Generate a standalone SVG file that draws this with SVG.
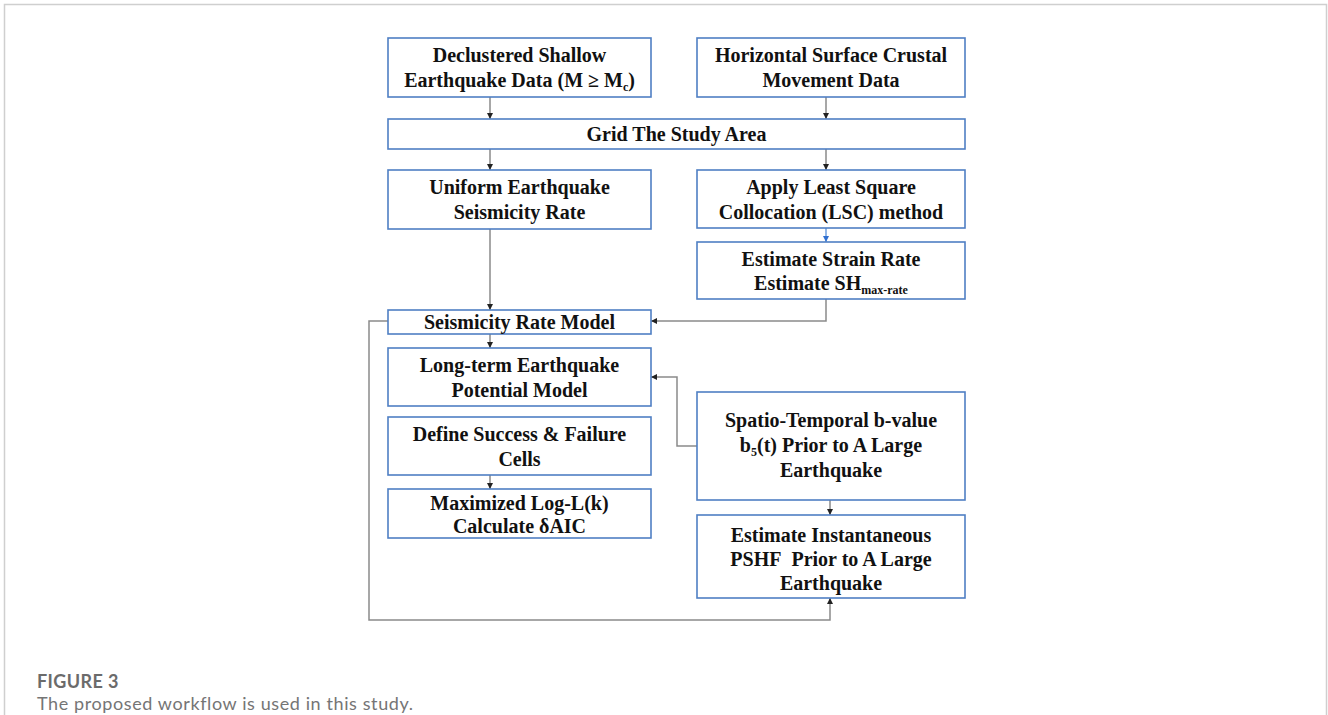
<svg xmlns="http://www.w3.org/2000/svg" width="1328" height="715" viewBox="0 0 1328 715">
<style>
.box{fill:#fff;stroke:#4f7fc4;stroke-width:1.6}
.t{font-family:"Liberation Serif","Times New Roman",serif;font-weight:bold;font-size:20px;fill:#111;text-anchor:middle}
.c{fill:none;stroke:#8a8a8a;stroke-width:1.5}
.cap1{font-family:Lato,"Open Sans",sans-serif;font-weight:bold;font-size:18px;letter-spacing:0.4px;fill:#6b6b6b}
.cap2{font-family:Lato,"Open Sans",sans-serif;font-size:18px;letter-spacing:0.6px;fill:#757575}
</style>
<defs>
<marker id="ah" viewBox="0 0 10 10" refX="10" refY="5" markerWidth="6" markerHeight="6" orient="auto" markerUnits="userSpaceOnUse"><path d="M0,0L10,5L0,10z" fill="#222"/></marker>
<marker id="ahb" viewBox="0 0 10 10" refX="10" refY="5" markerWidth="6" markerHeight="6" orient="auto" markerUnits="userSpaceOnUse"><path d="M0,0L10,5L0,10z" fill="#2f6fd0"/></marker>
</defs>
<rect width="1328" height="715" fill="#fff"/>
<path d="M4.5,715V4.5H1326.5V715" fill="none" stroke="#cfcfcf" stroke-width="1.5"/>

<g id="connectors">
<path class="c" d="M490,97V119" marker-end="url(#ah)"/>
<path class="c" d="M826,97V119" marker-end="url(#ah)"/>
<path class="c" d="M490,149V170" marker-end="url(#ah)"/>
<path class="c" d="M826,149V170" marker-end="url(#ah)"/>
<path d="M826,228V242" fill="none" stroke="#6fa0e0" stroke-width="1.5" marker-end="url(#ahb)"/>
<path class="c" d="M490,229V310" marker-end="url(#ah)"/>
<path class="c" d="M826,299V321H651" marker-end="url(#ah)"/>
<path class="c" d="M490,334V348" marker-end="url(#ah)"/>
<path class="c" d="M697,446H677V377H651" marker-end="url(#ah)"/>
<path class="c" d="M490,475V489" marker-end="url(#ah)"/>
<path class="c" d="M830,500V515" marker-end="url(#ah)"/>
<path class="c" d="M388,321H369V620H830V598" marker-end="url(#ah)"/>
</g>

<g id="n1"><rect class="box" x="388" y="38" width="263" height="59"/>
<text class="t" x="519.5" y="62">Declustered Shallow</text>
<text class="t" x="519.5" y="87">Earthquake Data (M ≥ M<tspan font-size="12" dy="4">c</tspan><tspan dy="-4">)</tspan></text></g>

<g id="n2"><rect class="box" x="697" y="38" width="268" height="59"/>
<text class="t" x="831" y="62">Horizontal Surface Crustal</text>
<text class="t" x="831" y="87">Movement Data</text></g>

<g id="n3"><rect class="box" x="388" y="119" width="577" height="30"/>
<text class="t" x="676.5" y="141">Grid The Study Area</text></g>

<g id="n4"><rect class="box" x="388" y="170" width="263" height="59"/>
<text class="t" x="519.5" y="194">Uniform Earthquake</text>
<text class="t" x="519.5" y="219">Seismicity Rate</text></g>

<g id="n5"><rect class="box" x="697" y="170" width="268" height="58"/>
<text class="t" x="831" y="194">Apply Least Square</text>
<text class="t" x="831" y="219">Collocation (LSC) method</text></g>

<g id="n6"><rect class="box" x="697" y="242" width="268" height="57"/>
<text class="t" x="831" y="266">Estimate Strain Rate</text>
<text class="t" x="831" y="290">Estimate SH<tspan font-size="12" dy="4">max-rate</tspan></text></g>

<g id="n7"><rect class="box" x="388" y="310" width="263" height="24"/>
<text class="t" x="519.5" y="329">Seismicity Rate Model</text></g>

<g id="n8"><rect class="box" x="388" y="348" width="263" height="58"/>
<text class="t" x="519.5" y="372">Long-term Earthquake</text>
<text class="t" x="519.5" y="397">Potential Model</text></g>

<g id="n9"><rect class="box" x="697" y="392" width="268" height="108"/>
<text class="t" x="831" y="427">Spatio-Temporal b-value</text>
<text class="t" x="831" y="452">b<tspan font-size="12" dy="4">5</tspan><tspan dy="-4">(t) Prior to A Large</tspan></text>
<text class="t" x="831" y="477">Earthquake</text></g>

<g id="n10"><rect class="box" x="388" y="417" width="263" height="58"/>
<text class="t" x="519.5" y="441">Define Success &amp; Failure</text>
<text class="t" x="519.5" y="466">Cells</text></g>

<g id="n11"><rect class="box" x="388" y="489" width="263" height="49"/>
<text class="t" x="519.5" y="510">Maximized Log-L(k)</text>
<text class="t" x="519.5" y="533">Calculate δAIC</text></g>

<g id="n12"><rect class="box" x="697" y="515" width="268" height="83"/>
<text class="t" x="831" y="542">Estimate Instantaneous</text>
<text class="t" x="831" y="566">PSHF&#160; Prior to A Large</text>
<text class="t" x="831" y="590">Earthquake</text></g>

<text class="cap1" x="37" y="688">FIGURE 3</text>
<text class="cap2" x="37" y="710">The proposed workflow is used in this study.</text>
</svg>
